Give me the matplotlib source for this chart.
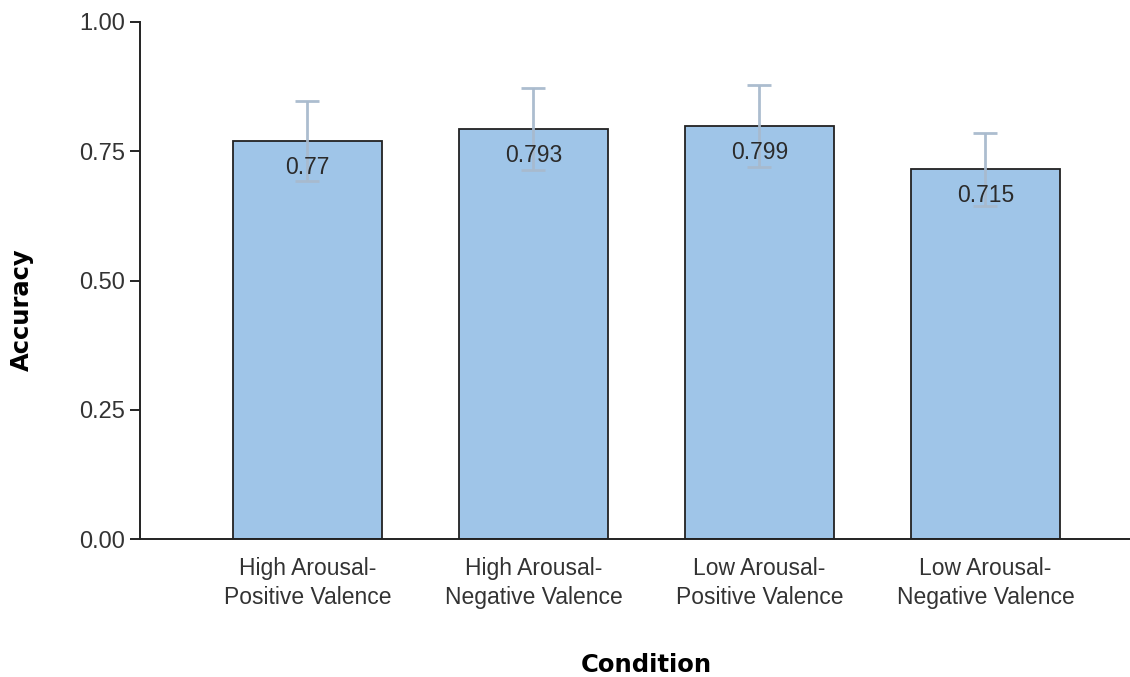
import matplotlib.pyplot as plt
import numpy as np

plt.rcParams['font.family'] = ['Liberation Sans', 'DejaVu Sans']

# data
categories = ['High Arousal-\nPositive Valence', 'High Arousal-\nNegative Valence',
              'Low Arousal-\nPositive Valence', 'Low Arousal-\nNegative Valence']
accuracy = [0.77, 0.793, 0.799, 0.715]
ci_low = [0.692, 0.714, 0.720, 0.644]
ci_high = [0.847, 0.872, 0.878, 0.786]
labels = ['0.77', '0.793', '0.799', '0.715']

x = np.arange(len(categories))
acc = np.array(accuracy)
yerr = [acc - np.array(ci_low), np.array(ci_high) - acc]

fig = plt.figure(figsize=(11.3, 6.77), dpi=100)
ax = fig.add_axes([140 / 1130, 1 - 539 / 677, 1 - 140 / 1130, (539 - 22) / 677])

ax.bar(x, accuracy, width=0.66, color='#9fc5e8', edgecolor='#222222', linewidth=1.3, zorder=2)
ax.errorbar(x, accuracy, yerr=yerr, fmt='none', ecolor='#a8bacd', elinewidth=2,
            capsize=8.6, capthick=2, alpha=0.95, zorder=3)

for xi, v, lab in zip(x, accuracy, labels):
    ax.text(xi, v - 0.051, lab, ha='center', va='center', fontsize=16.5, color='#2b2b2b', zorder=4)

ax.set_xlim(-0.741, 3.64)
ax.set_ylim(0, 1.0)
ax.set_yticks([0, 0.25, 0.5, 0.75, 1.0])
ax.set_yticklabels(['0.00', '0.25', '0.50', '0.75', '1.00'])
ax.set_xticks(x)
ax.set_xticklabels(categories, fontsize=16.5, color='#333333', linespacing=1.35)
ax.tick_params(axis='x', length=0, pad=13)
ax.tick_params(axis='y', length=7.2, width=1.2, labelsize=17, labelcolor='#333333', pad=3.6)

for s in ['top', 'right']:
    ax.spines[s].set_visible(False)
for s in ['left', 'bottom']:
    ax.spines[s].set_linewidth(1.4)
    ax.spines[s].set_color('#222222')

fig.text(22 / 1130, 1 - 310 / 677, 'Accuracy', rotation=90, ha='center', va='center',
         fontsize=17.5, fontweight='bold', family='DejaVu Sans')
fig.text(646 / 1130, 1 - 665 / 677, 'Condition', ha='center', va='center',
         fontsize=17.5, fontweight='bold', family='DejaVu Sans')

fig.savefig('out.png', dpi=100)
